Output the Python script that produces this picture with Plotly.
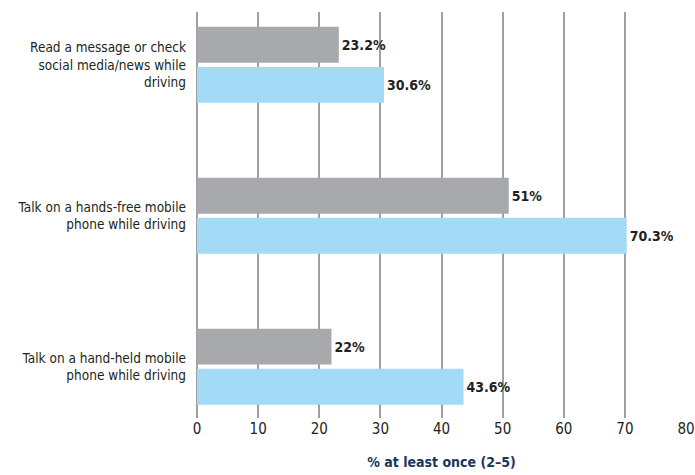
import plotly.graph_objects as go

categories = [
    "Read a message or check<br>social media/news while<br>driving",
    "Talk on a hands-free mobile<br>phone while driving",
    "Talk on a hand-held mobile<br>phone while driving",
]
gray_values = [23.2, 51, 22]
blue_values = [30.6, 70.3, 43.6]
x_ticks = [0, 10, 20, 30, 40, 50, 60, 70, 80]

FONT = "Liberation Sans Narrow, DejaVu Sans Condensed, Arial Narrow, sans-serif"
pos = list(range(len(categories)))

fig = go.Figure()
fig.add_trace(go.Bar(
    y=pos, x=gray_values, orientation="h",
    marker=dict(color="#A7A9AC", line=dict(width=0)),
    width=0.238, offset=-0.252,
    text=[f"{v:g}%" for v in gray_values], textposition="outside",
    textfont=dict(family=FONT, size=14, color="#231F20", weight="bold"),
    cliponaxis=False, showlegend=False,
))
fig.add_trace(go.Bar(
    y=pos, x=blue_values, orientation="h",
    marker=dict(color="#A3DAF5", line=dict(width=0)),
    width=0.238, offset=0.014,
    text=[f"{v:g}%" for v in blue_values], textposition="outside",
    textfont=dict(family=FONT, size=14, color="#231F20", weight="bold"),
    cliponaxis=False, showlegend=False,
))

fig.update_layout(
    width=695, height=475,
    margin=dict(l=197, r=9, t=12, b=57),
    paper_bgcolor="white", plot_bgcolor="white",
    font=dict(family=FONT, size=14, color="#231F20"),
    xaxis=dict(
        range=[0, 80], tickvals=x_ticks, ticktext=[str(t) for t in x_ticks],
        showgrid=True, gridcolor="#A0A0A0", gridwidth=1.5,
        zeroline=True, zerolinecolor="#A0A0A0", zerolinewidth=1.5,
        showline=False, ticks="", ticklen=0, automargin=False,
        tickfont=dict(family=FONT, size=15, color="#231F20"),
        title=dict(text="% at least once (2–5)", standoff=20,
                   font=dict(family=FONT, size=14, color="#1B365D", weight="bold")),
        fixedrange=True,
    ),
    yaxis=dict(
        range=[2.34, -0.35], tickvals=pos, ticktext=categories,
        showgrid=False, zeroline=False, showline=False, ticks="",
        ticklabelstandoff=10, automargin=False,
        tickfont=dict(family=FONT, size=13.5, color="#231F20"),
        fixedrange=True,
    ),
)

fig.write_html("out.html", config={"displayModeBar": False},
               post_script="document.body.style.margin='0';")
